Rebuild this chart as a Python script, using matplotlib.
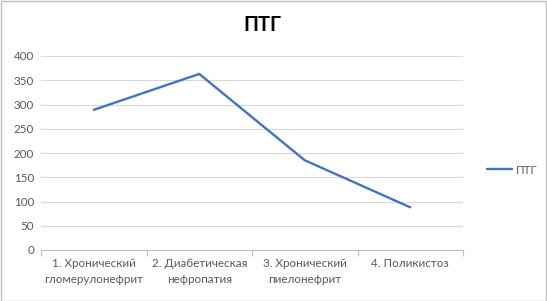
import matplotlib
matplotlib.use("Agg")
import matplotlib.pyplot as plt
from matplotlib.patches import Rectangle

categories = ["1. Хронический\nгломерулонефрит", "2. Диабетическая\nнефропатия",
              "3. Хронический\nпиелонефрит", "4. Поликистоз"]
values = [289, 363, 185, 88]
series_name = "ПТГ"
yticks = [0, 50, 100, 150, 200, 250, 300, 350, 400]

plt.rcParams['font.family'] = ['Lato', 'DejaVu Sans']

fig = plt.figure(figsize=(5.47, 3.01), dpi=100)
ax = fig.add_axes([41/547, 51/301, 422/547, 194/301])

x = list(range(len(categories)))
line, = ax.plot(x, values, color="#4472C4", lw=1.7, label=series_name, solid_capstyle="round")

ax.set_xlim(-0.5, len(categories) - 0.5)
ax.set_ylim(0, 400)
ax.set_yticks(yticks)
ax.set_xticks([i - 0.5 for i in range(len(categories) + 1)], minor=False)
ax.set_xticklabels([])
ax.set_xticks(x, minor=True)
ax.set_xticklabels(categories, minor=True, fontsize=8.4, color="#595959", linespacing=1.5)
ax.tick_params(axis="x", which="minor", length=0, pad=6)
ax.tick_params(axis="x", which="major", length=4, color="#bfbfbf", width=0.8)
ax.tick_params(axis="y", length=0, labelsize=8.4, labelcolor="#595959", pad=5)

ax.grid(axis="y", color="#d9d9d9", lw=0.8)
ax.set_axisbelow(True)
for s in ["top", "right", "left"]:
    ax.spines[s].set_visible(False)
ax.spines["bottom"].set_color("#bfbfbf")
ax.spines["bottom"].set_linewidth(0.8)

fig.text(262/547, 1 - 25/301, "ПТГ", ha="center", va="center", fontsize=14.5, fontweight="bold", color="#000000")

fig.legend(handles=[line], loc="center left", bbox_to_anchor=(476/547, 1 - 170/301),
           frameon=False, fontsize=8.4, labelcolor="#595959", handlelength=2.2, handletextpad=0.3)

fig.add_artist(Rectangle((0.5/547, 0.5/301), 1 - 1.5/547, 1 - 1.5/301, transform=fig.transFigure,
                         fill=False, edgecolor="#bfbfbf", lw=1))

fig.savefig("out.png", dpi=100, facecolor="white")
